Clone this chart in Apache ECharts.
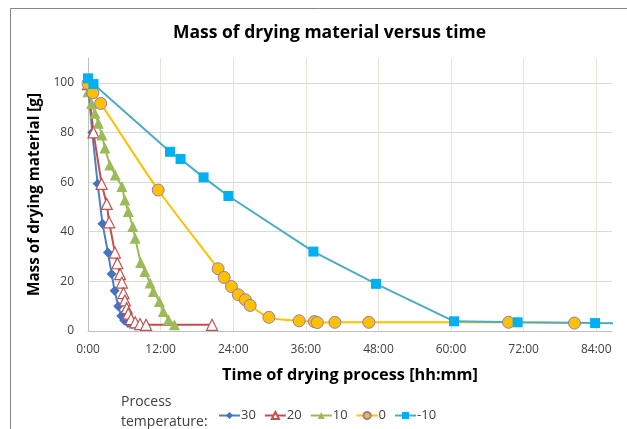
<!DOCTYPE html>
<html>
<head>
<meta charset="utf-8">
<script src="https://cdn.jsdelivr.net/npm/echarts@6/dist/echarts.min.js"></script>
<style>html,body{margin:0;padding:0;background:#fff}#c{width:627px;height:429px}</style>
</head>
<body>
<div id="c"></div>
<script>
// time in hours, mass in grams
const s30 = [[0,100],[0.7,80],[1.6,59.3],[2.4,43.2],[3.3,31.6],[3.9,23],[4.4,16.2],[5.0,10],[5.5,6],[6.0,4.2],[6.6,3.2],[7.3,2.7],[8.0,2.5]];
const s20 = [[0,99.5],[0.9,80],[2.25,59.3],[3.1,51.2],[3.5,43.8],[4.45,31.6],[4.85,27.3],[5.3,22.9],[5.6,19.5],[5.85,15.3],[6.1,12.3],[6.4,9.2],[6.65,7.0],[7.1,4.8],[7.8,3.5],[8.6,2.8],[9.6,2.5],[20.5,2.5]];
const s10 = [[0,96.4],[0.6,91.7],[1.15,87.7],[1.7,83.7],[2.3,79],[2.8,73.7],[3.6,66.9],[4.5,62.9],[5.6,58.2],[6.1,52.8],[6.65,48.1],[7.4,42.1],[7.8,37.4],[8.7,27.6],[9.4,24],[10.25,19.3],[10.8,15.9],[11.8,11.9],[12.45,7.9],[13.3,4.5],[14.3,2.5]];
const s0 = [[0,99.7],[0.8,96],[2.1,91.7],[11.6,56.8],[21.5,25.1],[22.5,21.6],[23.7,17.9],[24.85,14.6],[26.0,12.6],[26.8,10.3],[29.9,5.5],[34.9,4.1],[37.4,3.8],[37.9,3.4],[40.8,3.5],[46.4,3.5],[69.5,3.5],[80.4,3.2]];
const sM10 = [[0,101.8],[0.9,99.5],[13.55,72.2],[15.3,69.3],[19.1,61.9],[23.2,54.4],[37.25,32.0],[47.6,19.0],[60.5,3.9],[71.0,3.5],[83.8,3.2],[88,3.1]];
const seriesNames = ['30','20','10','0','-10'];
const xTicks = [0,12,24,36,48,60,72,84];

const chart = echarts.init(document.getElementById('c'));
const F = '"Open Sans", sans-serif';
function mk(name, data, color, symbol, size, itemStyle, lineColor, smooth){
  return {name, type:'line', data, symbol, symbolSize:size, smooth: smooth||false,
    lineStyle:{color:lineColor||color, width:2}, itemStyle, clip:true, z: 2};
}
chart.setOption({
  animation:false,
  title:{text:'Mass of drying material versus time', left:168, top:19,
    textStyle:{fontFamily:F, fontSize:17.5, fontWeight:'bold', color:'#000'}},
  grid:{left:88, right:15, top:58, bottom:98},
  graphic:[
    {type:'line', shape:{x1:10.5,y1:8.5,x2:627,y2:8.5}, style:{stroke:'#868686', lineWidth:1}},
    {type:'line', shape:{x1:10.5,y1:8.5,x2:10.5,y2:429}, style:{stroke:'#868686', lineWidth:1}},
    {type:'text', left:121, top:395, style:{text:'Process', font:'14px '+F, fill:'#404040'}},
    {type:'text', left:121, top:415, style:{text:'temperature:', font:'14px '+F, fill:'#404040'}}
  ],
  legend:{left:213, top:404, itemWidth:21, itemHeight:9, itemGap:8,
    textStyle:{fontFamily:F, fontSize:13, color:'#404040', padding:[0,0,0,-4]},
    data: seriesNames},
  xAxis:{type:'value', min:0, max:86.6, interval:12,
    name:'Time of drying process [hh:mm]', nameLocation:'middle', nameGap:36,
    nameTextStyle:{fontFamily:F, fontSize:16.3, fontWeight:'bold', color:'#000'},
    axisLine:{show:true, lineStyle:{color:'#BFBFBF'}}, axisTick:{show:false},
    axisLabel:{showMaxLabel:false, fontFamily:F, fontSize:12, color:'#404040', margin:13,
      formatter:v=> (xTicks.indexOf(v)>=0 ? v+':00' : '')},
    splitLine:{show:true, showMaxLine:false, lineStyle:{color:'#E6E3D6'}}},
  yAxis:{type:'value', min:0, max:110, interval:20,
    name:'Mass of drying material [g]', nameLocation:'middle', nameGap:41,
    nameTextStyle:{fontFamily:F, fontSize:15.3, fontWeight:'bold', color:'#000'},
    axisLine:{show:true, lineStyle:{color:'#BFBFBF'}}, axisTick:{show:false},
    axisLabel:{showMaxLabel:false, fontFamily:F, fontSize:12, color:'#404040', margin:14},
    splitLine:{show:true, showMaxLine:false, lineStyle:{color:'#D9D9D9'}}},
  series:[
    mk('30', s30, '#4472C4', 'diamond', 10, {color:'#4472C4'}, '#4F81BD'),
    mk('20', s20, '#C0504D', 'triangle', 11, {color:'#fff', borderColor:'#C0504D', borderWidth:1.2}, '#C0504D'),
    mk('10', s10, '#9BBB59', 'triangle', 11, {color:'#9BBB59'}, '#9BBB59'),
    mk('0', s0, '#FFC000', 'circle', 12, {color:'#FFC000', borderColor:'#8E7CC3', borderWidth:1}, '#FFC000', 0.3),
    mk('-10', sM10, '#00B0F0', 'rect', 10, {color:'#00B0F0'}, '#4BACC6')
  ]
});
</script>
</body>
</html>
